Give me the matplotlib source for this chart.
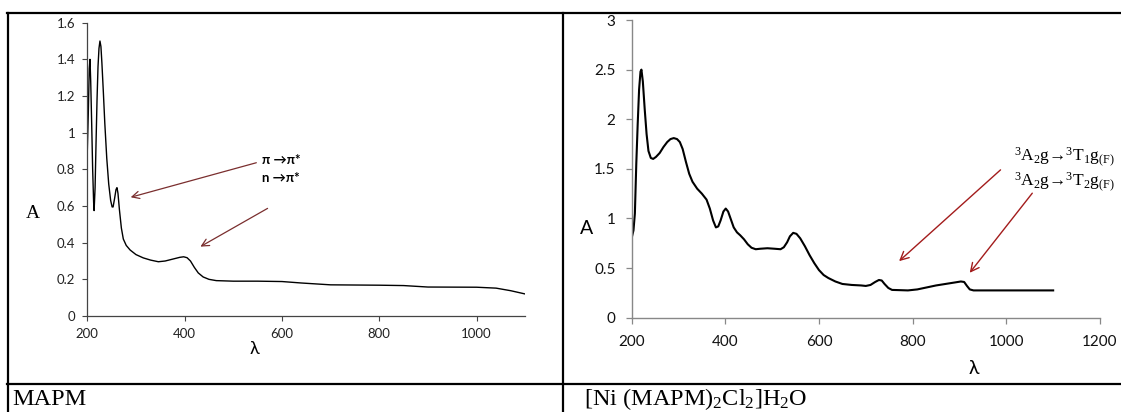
import matplotlib
matplotlib.use("Agg")
import matplotlib.pyplot as plt
from matplotlib.lines import Line2D
from matplotlib.patches import FancyArrowPatch

# ---------------- data ----------------
mapm_wavelength = [200, 202, 204, 205.5, 207, 209, 211, 213, 214, 216, 218, 220, 222, 224, 226,
                   228, 230, 233, 236, 240, 244, 248, 251, 253, 256, 259, 261, 263, 266, 270,
                   274, 280, 288, 300, 315, 330, 346, 360, 375, 390, 398, 405, 412, 420, 428,
                   438, 450, 465, 500, 550, 600, 640, 700, 800, 850, 900, 1000, 1040, 1070, 1100]
mapm_absorbance = [0.90, 1.10, 1.35, 1.40, 1.28, 1.05, 0.80, 0.62, 0.575, 0.70, 0.95, 1.18, 1.36, 1.46, 1.50,
                   1.47, 1.38, 1.22, 1.05, 0.86, 0.72, 0.63, 0.595, 0.595, 0.64, 0.69, 0.70, 0.67, 0.58, 0.48,
                   0.42, 0.385, 0.36, 0.335, 0.317, 0.305, 0.296, 0.30, 0.31, 0.32, 0.323, 0.318, 0.30, 0.265, 0.235,
                   0.213, 0.200, 0.193, 0.19, 0.19, 0.188, 0.18, 0.17, 0.168, 0.166, 0.158, 0.157, 0.152, 0.138, 0.12]

ni_wavelength = [200, 204, 207, 210, 213, 216, 219, 221, 224, 228, 232, 236, 241, 246, 252,
                 260, 268, 276, 283, 290, 297, 303, 309, 316, 323, 330, 340, 350, 360, 367,
                 374, 380, 385, 390, 396, 401, 406, 412, 418, 425, 432, 440, 448, 456, 465,
                 475, 490, 505, 518, 525, 532, 538, 545, 552, 560, 570, 580, 590, 600, 610,
                 620, 635, 650, 670, 690, 700, 710, 720, 728, 734, 740, 748, 756, 770, 790,
                 810, 830, 850, 870, 890, 903, 910, 916, 922, 930, 1000, 1100]
ni_absorbance = [0.80, 0.88, 1.05, 1.55, 1.95, 2.30, 2.48, 2.50, 2.38, 2.10, 1.85, 1.68, 1.61, 1.60, 1.62,
                 1.66, 1.72, 1.77, 1.80, 1.81, 1.80, 1.77, 1.70, 1.57, 1.45, 1.37, 1.30, 1.25, 1.19, 1.10,
                 0.98, 0.91, 0.92, 0.98, 1.07, 1.10, 1.07, 0.99, 0.91, 0.86, 0.83, 0.79, 0.74, 0.705, 0.69,
                 0.695, 0.70, 0.695, 0.69, 0.71, 0.76, 0.82, 0.855, 0.845, 0.80, 0.72, 0.63, 0.55, 0.48, 0.43,
                 0.40, 0.365, 0.34, 0.33, 0.325, 0.32, 0.33, 0.36, 0.38, 0.375, 0.34, 0.30, 0.28, 0.278, 0.275,
                 0.285, 0.305, 0.325, 0.34, 0.355, 0.365, 0.36, 0.32, 0.285, 0.275, 0.275, 0.275]

mapm_yticks = [0, 0.2, 0.4, 0.6, 0.8, 1.0, 1.2, 1.4, 1.6]
mapm_yticklabels = ["0", "0.2", "0.4", "0.6", "0.8", "1", "1.2", "1.4", "1.6"]
mapm_xticks = [200, 400, 600, 800, 1000]
ni_yticks = [0, 0.5, 1.0, 1.5, 2.0, 2.5, 3.0]
ni_yticklabels = ["0", "0.5", "1", "1.5", "2", "2.5", "3"]
ni_xticks = [200, 400, 600, 800, 1000, 1200]

caption_left = "MAPM"
caption_right = r"[Ni (MAPM)$_2$Cl$_2$]H$_2$O"
ann_left_1 = "π →π*"
ann_left_2 = "n →π*"
ann_right_1 = r"$^3$A$_2$g→$^3$T$_1$g$_{(F)}$"
ann_right_2 = r"$^3$A$_2$g→$^3$T$_2$g$_{(F)}$"

# ---------------- figure ----------------
plt.rcParams['mathtext.fontset'] = 'custom'
plt.rcParams['mathtext.rm'] = 'Liberation Serif'
plt.rcParams['mathtext.default'] = 'regular'

W, H = 1121, 412
fig = plt.figure(figsize=(W / 100, H / 100), dpi=100)


def fx(px):
    return px / W


def fy(py):
    return 1 - py / H


SANS = ['Lato', 'DejaVu Sans']
SERIF = ['Liberation Serif', 'DejaVu Serif']

# table borders
lines = [
    ([7, W], [13, 13]),
    ([7.5, 7.5], [13, H]),
    ([563, 563], [13, H]),
    ([7, W], [383.5, 383.5]),
]
for xs, ys in lines:
    fig.add_artist(Line2D([fx(x) for x in xs], [fy(y) for y in ys], color='black', lw=1.6,
                          transform=fig.transFigure))

# ---------------- left chart ----------------
axL = fig.add_axes([fx(87.3), fy(316), fx(525.3) - fx(87.3), fy(22.7) - fy(316)])
axL.plot(mapm_wavelength, mapm_absorbance, color='black', lw=1.0)
axL.set_xlim(200, 1100)
axL.set_ylim(0, 1.6)
axL.set_xticks(mapm_xticks)
axL.set_xticklabels([str(v) for v in mapm_xticks])
axL.set_yticks(mapm_yticks)
axL.set_yticklabels(mapm_yticklabels)
for s in ['top', 'right']:
    axL.spines[s].set_visible(False)
for s in ['left', 'bottom']:
    axL.spines[s].set_color('#444444')
    axL.spines[s].set_linewidth(0.9)
axL.tick_params(direction='out', length=3.5, width=0.8, color='#444444',
                labelsize=9.5, labelcolor='#222222')
axL.tick_params(axis='y', pad=5)
axL.tick_params(axis='x', pad=5)
for lab in axL.get_xticklabels() + axL.get_yticklabels():
    lab.set_family(SANS)

fig.text(fx(33), fy(214), "A", fontsize=14, family=SERIF, ha='center', va='center')
fig.text(fx(254), fy(349), "λ", fontsize=13, family=SANS, ha='center', va='center')

fig.text(fx(262), fy(160), ann_left_1, fontsize=9.5, fontweight='bold', family=SANS,
         ha='left', va='center')
fig.text(fx(262), fy(178), ann_left_2, fontsize=9.5, fontweight='bold', family=SANS,
         ha='left', va='center')
arrow_left = dict(arrowstyle='->', color='#7a2e2e', lw=0.9, mutation_scale=13)
fig.add_artist(FancyArrowPatch((fx(259), fy(162)), (fx(128), fy(198)),
                               transform=fig.transFigure, **arrow_left))
fig.add_artist(FancyArrowPatch((fx(270), fy(207)), (fx(198), fy(248)),
                               transform=fig.transFigure, **arrow_left))

# ---------------- right chart ----------------
axR = fig.add_axes([fx(631.6), fy(317.7), fx(1100) - fx(631.6), fy(20) - fy(317.7)])
axR.plot(ni_wavelength, ni_absorbance, color='black', lw=1.5)
axR.set_xlim(200, 1200)
axR.set_ylim(0, 3)
axR.set_xticks(ni_xticks)
axR.set_xticklabels([str(v) for v in ni_xticks])
axR.set_yticks(ni_yticks)
axR.set_yticklabels(ni_yticklabels)
for s in ['top', 'right']:
    axR.spines[s].set_visible(False)
for s in ['left', 'bottom']:
    axR.spines[s].set_color('#888888')
    axR.spines[s].set_linewidth(1.0)
axR.tick_params(direction='out', length=4.5, width=0.9, color='#888888',
                labelsize=11, labelcolor='#111111')
axR.tick_params(axis='y', pad=7)
axR.tick_params(axis='x', pad=8)
for lab in axR.get_xticklabels() + axR.get_yticklabels():
    lab.set_family(SANS)

fig.text(fx(587), fy(228), "A", fontsize=14, family=SANS, ha='center', va='center')
fig.text(fx(974), fy(368), "λ", fontsize=14, family=SANS, ha='center', va='center')

fig.text(fx(1014), fy(157), ann_right_1, fontsize=12.5, family=SERIF, ha='left', va='center')
fig.text(fx(1014), fy(182), ann_right_2, fontsize=12.5, family=SERIF, ha='left', va='center')
arrow_right = dict(arrowstyle='->', color='#a31c1c', lw=1.0, mutation_scale=15)
fig.add_artist(FancyArrowPatch((fx(1002.6), fy(168)), (fx(897), fy(263)),
                               transform=fig.transFigure, **arrow_right))
fig.add_artist(FancyArrowPatch((fx(1034), fy(191)), (fx(968), fy(275)),
                               transform=fig.transFigure, **arrow_right))

# ---------------- captions ----------------
fig.text(fx(12), fy(405), caption_left, fontsize=17.5, family=SERIF, ha='left', va='baseline')
fig.text(fx(584), fy(405), caption_right, fontsize=17.5, family=SERIF, ha='left', va='baseline')

fig.savefig("out.png", dpi=100)
